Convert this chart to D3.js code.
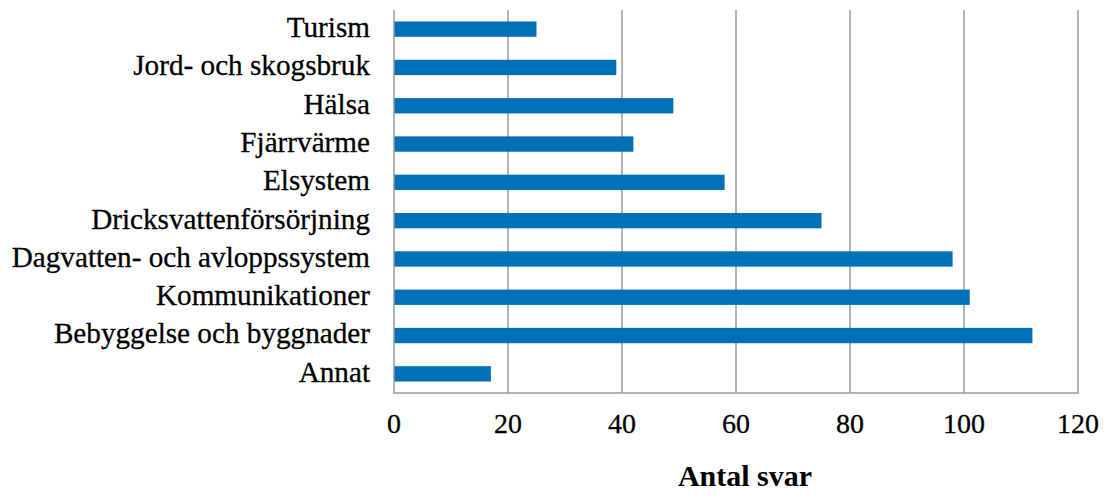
<!DOCTYPE html>
<html><head><meta charset="utf-8">
<script src="https://cdn.jsdelivr.net/npm/d3@7"></script>
<style>html,body{margin:0;padding:0;background:#fff;}</style>
</head><body>
<svg id="chart" width="1105" height="497"></svg>
<script>
const categories = ["Turism","Jord- och skogsbruk","Hälsa","Fjärrvärme","Elsystem","Dricksvattenförsörjning","Dagvatten- och avloppssystem","Kommunikationer","Bebyggelse och byggnader","Annat"];
const values = [25,39,49,42,58,75,98,101,112,17];
const xTicks = [0,20,40,60,80,100,120];
const xTitle = "Antal svar";

const svg = d3.select("#chart");
const m = {left:394, right:1078, top:10, bottom:393};
const font = "'Liberation Serif', 'Times New Roman', serif";

const x = d3.scaleLinear().domain([0,120]).range([m.left, m.right]);
const y = d3.scaleBand().domain(categories).range([m.top, m.bottom]).paddingInner(0.6).paddingOuter(0.3);

// gridlines
svg.append("g").selectAll("line").data(xTicks.slice(1)).join("line")
  .attr("x1", d=>x(d)).attr("x2", d=>x(d)).attr("y1", m.top).attr("y2", m.bottom)
  .attr("stroke", "#9a9a9a").attr("stroke-width", 1.5);

// bars
svg.append("g").selectAll("rect").data(categories).join("rect")
  .attr("x", x(0)).attr("y", d=>y(d))
  .attr("width", (d,i)=>x(values[i])-x(0))
  .attr("height", y.bandwidth())
  .attr("fill", "#0070B8");

// axis lines
svg.append("line").attr("x1", x(0)).attr("x2", x(0)).attr("y1", m.top).attr("y2", m.bottom)
  .attr("stroke", "#9a9a9a").attr("stroke-width", 1.5);
svg.append("line").attr("x1", x(0)-0.75).attr("x2", m.right+0.75).attr("y1", m.bottom).attr("y2", m.bottom)
  .attr("stroke", "#9a9a9a").attr("stroke-width", 1.5);

// category labels
svg.append("g").selectAll("text").data(categories).join("text")
  .attr("x", 370).attr("y", d=>y(d)+y.bandwidth()/2)
  .attr("dy", "0.27em")
  .attr("text-anchor", "end")
  .attr("font-family", font).attr("font-size", 29.2).attr("fill", "#000")
  .attr("stroke", "#000").attr("stroke-width", 0.3)
  .text(d=>d);

// tick labels
svg.append("g").selectAll("text").data(xTicks).join("text")
  .attr("x", d=>x(d)).attr("y", 433)
  .attr("text-anchor", "middle")
  .attr("font-family", font).attr("font-size", 28).attr("fill", "#000")
  .attr("stroke", "#000").attr("stroke-width", 0.3)
  .text(d=>d);

// axis title
svg.append("text").attr("x", 745).attr("y", 486)
  .attr("text-anchor", "middle")
  .attr("font-family", font).attr("font-size", 30).attr("font-weight", "bold").attr("fill", "#000")
  .text(xTitle);
</script>
</body></html>
